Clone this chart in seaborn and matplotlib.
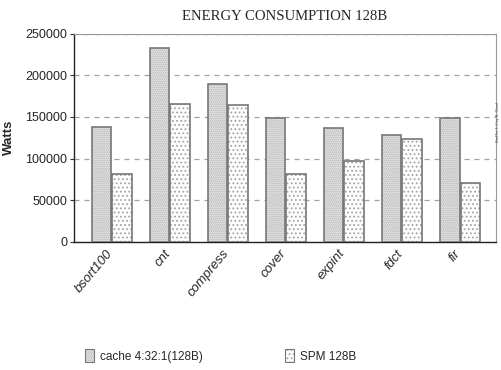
import matplotlib
matplotlib.use("Agg")
import matplotlib.pyplot as plt
import matplotlib.transforms as mtrans
import seaborn as sns
import pandas as pd
from matplotlib.colors import to_rgba
from matplotlib.patches import Patch

benchmarks = ["bsort100", "cnt", "compress", "cover", "expint", "fdct", "fir"]
cache_vals = [138000, 233000, 190000, 149000, 137000, 128000, 149000]
spm_vals = [81000, 166000, 164000, 82000, 97000, 124000, 71000]
series = ["cache 4:32:1(128B)", "SPM 128B"]
yticks = [0, 50000, 100000, 150000, 200000, 250000]

df = pd.DataFrame({
    "bench": benchmarks * 2,
    "series": [series[0]] * len(benchmarks) + [series[1]] * len(benchmarks),
    "watts": cache_vals + spm_vals,
})

sns.set_style("white")
plt.rcParams["font.family"] = ["Liberation Sans", "DejaVu Sans"]
plt.rcParams["hatch.linewidth"] = 0.8

fills = ["#e4e4e4", "#fdfdfd"]
hatches = ["........", "...."]
hatch_cols = ["#b4b4b4", "#a4a4a4"]
edge = "#777777"

fig = plt.figure(figsize=(5.02, 3.70), dpi=100)
ax = fig.add_axes([74 / 502, 1 - 242 / 370, (496 - 74) / 502, (242 - 33.5) / 370])

sns.barplot(data=df, x="bench", y="watts", hue="series", order=benchmarks,
            hue_order=series, palette=fills, width=0.7,
            gap=0.05, edgecolor=edge, linewidth=1.2, ax=ax, legend=False,
            zorder=3)

for i, cont in enumerate(ax.containers):
    for p in cont:
        p.set_hatch(hatches[i])
        p._hatch_color = to_rgba(hatch_cols[i])

ax.set_xlim(-0.65, 6.62)
ax.set_ylim(0, 250000)
ax.set_yticks(yticks)
ax.set_yticklabels([str(v) for v in yticks], fontsize=9)
ax.yaxis.grid(True, linestyle=(0, (4, 4)), color="#a0a0a0", linewidth=0.9, zorder=0)
ax.set_axisbelow(True)
ax.tick_params(axis="y", length=3, width=0.8, color="#333333", left=True, pad=2)
ax.tick_params(axis="x", length=0, pad=4)
ax.set_xticks(range(len(benchmarks)))
ax.set_xticklabels(benchmarks, rotation=50, ha="right", va="top",
                   rotation_mode="anchor", fontsize=9.5, fontstyle="italic")
offset = mtrans.ScaledTranslation(-6 / 100, 0, fig.dpi_scale_trans)
for lab in ax.get_xticklabels():
    lab.set_transform(lab.get_transform() + offset)
ax.set_xlabel("")
ax.set_ylabel("")
fig.text(9 / 502, 1 - 137 / 370, "Watts", rotation=90, fontsize=9.5,
         fontweight="bold", ha="center", va="center")

for s in ["left", "bottom"]:
    ax.spines[s].set_color("#222222")
    ax.spines[s].set_linewidth(1.0)
for s in ["top", "right"]:
    ax.spines[s].set_color("#999999")
    ax.spines[s].set_linewidth(0.8)

fig.text(285 / 502, 1 - 16 / 370, "ENERGY CONSUMPTION 128B", fontsize=10.6,
         family=["Liberation Serif", "DejaVu Serif"], ha="center", va="center")

fig.text(498 / 502, 1 - 122 / 370, "BarPlot 1.1 by B. Chad", rotation=90,
         fontsize=2.8, color="#555555", ha="center", va="center")

handles = [Patch(facecolor=fills[0], edgecolor=edge, hatch=hatches[0], linewidth=0.8),
           Patch(facecolor=fills[1], edgecolor=edge, hatch=hatches[1], linewidth=0.8)]
leg = fig.legend(handles, series, loc="center left", bbox_to_anchor=(80 / 502, 1 - 356 / 370),
                 ncol=2, frameon=False, fontsize=8.5, handlelength=0.8, handleheight=1.2,
                 handletextpad=0.5, columnspacing=6.95, borderaxespad=0)
for i, h in enumerate(leg.get_patches()):
    h._hatch_color = to_rgba(hatch_cols[i])

fig.savefig("out.png", dpi=100)
